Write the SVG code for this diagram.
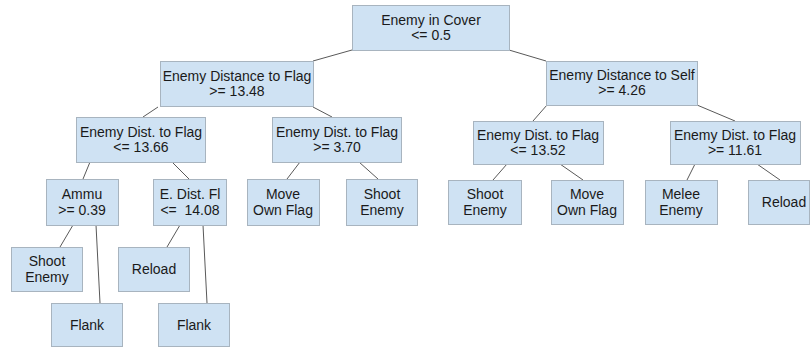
<svg xmlns="http://www.w3.org/2000/svg" width="810" height="348" viewBox="0 0 810 348">
<style>
.n{fill:#cfe2f3;stroke:#a8b4bf;stroke-width:1}
.t{font-family:"Liberation Sans",Arial,sans-serif;font-size:14px;fill:#1a1a1a;text-anchor:middle}
.c line{stroke:#595959;stroke-width:1}
</style>
<rect width="810" height="348" fill="#fff"/>
<g class="c" id="connectors">
<line x1="352" y1="50" x2="313" y2="61"/>
<line x1="509" y1="50" x2="546" y2="61"/>
<line x1="158" y1="107" x2="143" y2="117"/>
<line x1="313" y1="107" x2="332" y2="117"/>
<line x1="547" y1="105" x2="533" y2="121"/>
<line x1="697" y1="105" x2="735" y2="121"/>
<line x1="90" y1="162" x2="83" y2="179"/>
<line x1="172" y1="162" x2="189" y2="179"/>
<line x1="300" y1="162" x2="287" y2="179"/>
<line x1="359" y1="162" x2="378" y2="179"/>
<line x1="73" y1="225" x2="60" y2="247"/>
<line x1="96" y1="225" x2="100" y2="303"/>
<line x1="180" y1="225" x2="167" y2="247"/>
<line x1="203" y1="225" x2="207" y2="303"/>
<line x1="507" y1="164" x2="493" y2="180"/>
<line x1="560" y1="164" x2="583" y2="180"/>
<line x1="695" y1="164" x2="687" y2="180"/>
<line x1="757" y1="164" x2="780" y2="180"/>
</g>
<g id="root"><rect class="n" x="352.5" y="5.5" width="157" height="45"/><text class="t" x="431" y="25">Enemy in Cover</text><text class="t" x="431" y="40">&lt;= 0.5</text></g>
<g id="edf"><rect class="n" x="160.5" y="61.5" width="153" height="45"/><text class="t" x="237" y="81">Enemy Distance to Flag</text><text class="t" x="237" y="96">&gt;= 13.48</text></g>
<g id="eds"><rect class="n" x="546.5" y="61.5" width="151" height="44"/><text class="t" x="622" y="80">Enemy Distance to Self</text><text class="t" x="622" y="95">&gt;= 4.26</text></g>
<g id="d1366"><rect class="n" x="76.5" y="117.5" width="129" height="45"/><text class="t" x="141" y="137">Enemy Dist. to Flag</text><text class="t" x="141" y="152">&lt;= 13.66</text></g>
<g id="d370"><rect class="n" x="272.5" y="117.5" width="129" height="45"/><text class="t" x="337" y="137">Enemy Dist. to Flag</text><text class="t" x="337" y="152">&gt;= 3.70</text></g>
<g id="d1352"><rect class="n" x="473.5" y="121.5" width="130" height="43"/><text class="t" x="538" y="140">Enemy Dist. to Flag</text><text class="t" x="538" y="155">&lt;= 13.52</text></g>
<g id="d1161"><rect class="n" x="670.5" y="121.5" width="130" height="43"/><text class="t" x="735" y="140">Enemy Dist. to Flag</text><text class="t" x="735" y="155">&gt;= 11.61</text></g>
<g id="ammu"><rect class="n" x="46.5" y="179.5" width="72" height="46"/><text class="t" x="82" y="199">Ammu</text><text class="t" x="82" y="215">&gt;= 0.39</text></g>
<g id="edfl"><rect class="n" x="153.5" y="179.5" width="73" height="46"/><text class="t" x="190" y="199">E. Dist. Fl</text><text class="t" x="190" y="215" xml:space="preserve">&lt;=  14.08</text></g>
<g id="move1"><rect class="n" x="247.5" y="179.5" width="72" height="46"/><text class="t" x="283" y="199">Move</text><text class="t" x="283" y="215">Own Flag</text></g>
<g id="shoot1"><rect class="n" x="346.5" y="179.5" width="71" height="46"/><text class="t" x="382" y="199">Shoot</text><text class="t" x="382" y="215">Enemy</text></g>
<g id="shoot2"><rect class="n" x="448.5" y="180.5" width="73" height="44"/><text class="t" x="485" y="199">Shoot</text><text class="t" x="485" y="215">Enemy</text></g>
<g id="move2"><rect class="n" x="551.5" y="180.5" width="72" height="44"/><text class="t" x="587" y="199">Move</text><text class="t" x="587" y="215">Own Flag</text></g>
<g id="melee"><rect class="n" x="645.5" y="180.5" width="72" height="44"/><text class="t" x="681" y="199">Melee</text><text class="t" x="681" y="215">Enemy</text></g>
<g id="reload2"><rect class="n" x="748.5" y="180.5" width="61" height="44"/><text class="t" x="784" y="207">Reload</text></g>
<g id="shoot3"><rect class="n" x="11.5" y="247.5" width="71" height="44"/><text class="t" x="47" y="266">Shoot</text><text class="t" x="47" y="282">Enemy</text></g>
<g id="reload1"><rect class="n" x="118.5" y="247.5" width="71" height="44"/><text class="t" x="154" y="274">Reload</text></g>
<g id="flank1"><rect class="n" x="51.5" y="303.5" width="71" height="43"/><text class="t" x="87" y="330">Flank</text></g>
<g id="flank2"><rect class="n" x="158.5" y="303.5" width="71" height="43"/><text class="t" x="194" y="330">Flank</text></g>
</svg>
